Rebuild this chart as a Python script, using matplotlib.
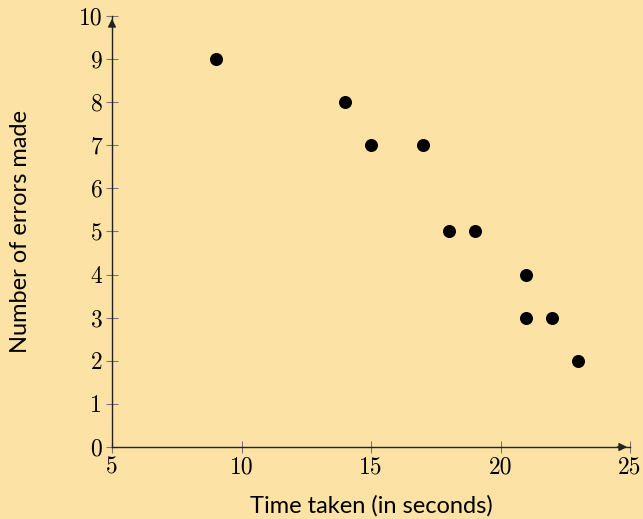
import matplotlib
matplotlib.use('Agg')
import matplotlib.pyplot as plt

# time taken (s) vs number of errors
time_taken = [9, 14, 15, 17, 18, 19, 21, 21, 22, 23]
errors = [9, 8, 7, 7, 5, 5, 4, 3, 3, 2]
x_ticks = [5, 10, 15, 20, 25]
y_ticks = list(range(0, 11))

bg = '#FDE2A6'

fig = plt.figure(figsize=(6.43, 5.19), dpi=100, facecolor=bg)
ax = fig.add_axes([0.1742, 0.1387, 0.8056, 0.8305])
ax.set_facecolor(bg)

ax.scatter(time_taken, errors, s=70, color='black', zorder=3, clip_on=False)

ax.set_xlim(5, 25)
ax.set_ylim(0, 10)
ax.set_xticks(x_ticks)
ax.set_yticks(y_ticks)

for s in ['top', 'right']:
    ax.spines[s].set_visible(False)
for s in ['left', 'bottom']:
    ax.spines[s].set_color('#222222')
    ax.spines[s].set_linewidth(1.0)

ax.tick_params(direction='inout', length=8, width=0.8, color='#777777',
               labelsize=17, pad=3)
for lab in ax.get_xticklabels() + ax.get_yticklabels():
    lab.set_fontfamily('cmr10')

# arrow heads at axis ends
ax.annotate('', xy=(1, 0), xycoords='axes fraction', xytext=(0.97, 0),
            arrowprops=dict(arrowstyle='-|>', color='#222222', lw=1.0, mutation_scale=12))
ax.annotate('', xy=(0, 1), xycoords='axes fraction', xytext=(0, 0.97),
            arrowprops=dict(arrowstyle='-|>', color='#222222', lw=1.0, mutation_scale=12))

ax.set_xlabel('Time taken (in seconds)', fontfamily='Lato', fontsize=17, labelpad=12)
ax.set_ylabel('Number of errors made', fontfamily='Lato', fontsize=17, labelpad=34)

fig.savefig('out.png', dpi=100, facecolor=bg)
